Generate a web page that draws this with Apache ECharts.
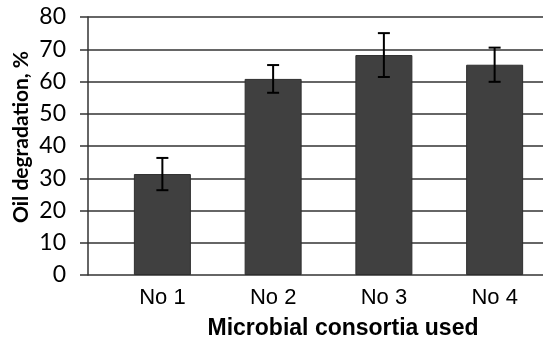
<!DOCTYPE html>
<html>
<head>
<meta charset="utf-8">
<script src="https://cdn.jsdelivr.net/npm/echarts@6/dist/echarts.min.js"></script>
<style>html,body{margin:0;padding:0;background:#fff;}#chart{width:550px;height:345px;}</style>
</head>
<body>
<div id="chart"></div>
<script>
const categories = ['No 1', 'No 2', 'No 3', 'No 4'];
const values = [31.3, 60.8, 68.2, 65.2];
const errors = [5.0, 4.3, 6.8, 5.3];
const yTicks = { min: 0, max: 80, interval: 10 };
const xTitle = 'Microbial consortia used';
const yTitle = 'Oil degradation, %';

const chart = echarts.init(document.getElementById('chart'));
const errData = categories.map((c, i) => [i, values[i] - errors[i], values[i] + errors[i]]);

chart.setOption({
  animation: false,
  backgroundColor: '#fff',
  grid: [
    { left: 88, right: 7, top: 17, bottom: 70 },
    { left: 107, width: 444, top: 17, bottom: 70 }
  ],
  xAxis: [
    { gridIndex: 0, type: 'value', show: false, min: 0, max: 1 },
    {
      gridIndex: 1, type: 'category', data: categories,
      axisLine: { show: false }, axisTick: { show: false },
      axisLabel: { fontFamily: 'Liberation Sans, Arial', fontSize: 22, color: '#000', margin: 12 }
    }
  ],
  yAxis: [
    {
      gridIndex: 0, type: 'value', min: yTicks.min, max: yTicks.max, interval: yTicks.interval,
      axisLine: { show: true, lineStyle: { color: '#333', width: 1.5 } },
      axisTick: { show: true, length: 8, lineStyle: { color: '#333', width: 1.5 } },
      splitLine: { show: true, lineStyle: { color: '#333', width: 1.5 } },
      axisLabel: { fontFamily: 'Lato', fontSize: 23, color: '#000', margin: 22 }
    },
    { gridIndex: 1, type: 'value', min: yTicks.min, max: yTicks.max, show: false }
  ],
  graphic: [
    {
      type: 'text', x: 343, y: 329,
      style: { text: xTitle, font: 'bold 23px "Liberation Sans", Arial', fill: '#000', textAlign: 'center', textVerticalAlign: 'middle' }
    },
    {
      type: 'text', x: 21, y: 137, rotation: Math.PI / 2,
      style: { text: yTitle, font: 'bold 21px Lato', fill: '#000', textAlign: 'center', textVerticalAlign: 'middle' }
    }
  ],
  series: [
    {
      type: 'bar', xAxisIndex: 1, yAxisIndex: 1, data: values, barWidth: 57,
      itemStyle: { color: '#404040', borderColor: '#2e2e2e', borderWidth: 1 }, z: 3
    },
    {
      type: 'custom', xAxisIndex: 1, yAxisIndex: 1, data: errData, z: 5,
      renderItem: function (params, api) {
        const x = api.value(0);
        const lo = api.coord([x, api.value(1)]);
        const hi = api.coord([x, api.value(2)]);
        const hw = 6;
        const st = { stroke: '#000', lineWidth: 2 };
        return {
          type: 'group',
          children: [
            { type: 'line', shape: { x1: hi[0], y1: hi[1], x2: lo[0], y2: lo[1] }, style: st },
            { type: 'line', shape: { x1: hi[0] - hw, y1: hi[1], x2: hi[0] + hw, y2: hi[1] }, style: st },
            { type: 'line', shape: { x1: lo[0] - hw, y1: lo[1], x2: lo[0] + hw, y2: lo[1] }, style: st }
          ]
        };
      }
    }
  ]
});
</script>
</body>
</html>
